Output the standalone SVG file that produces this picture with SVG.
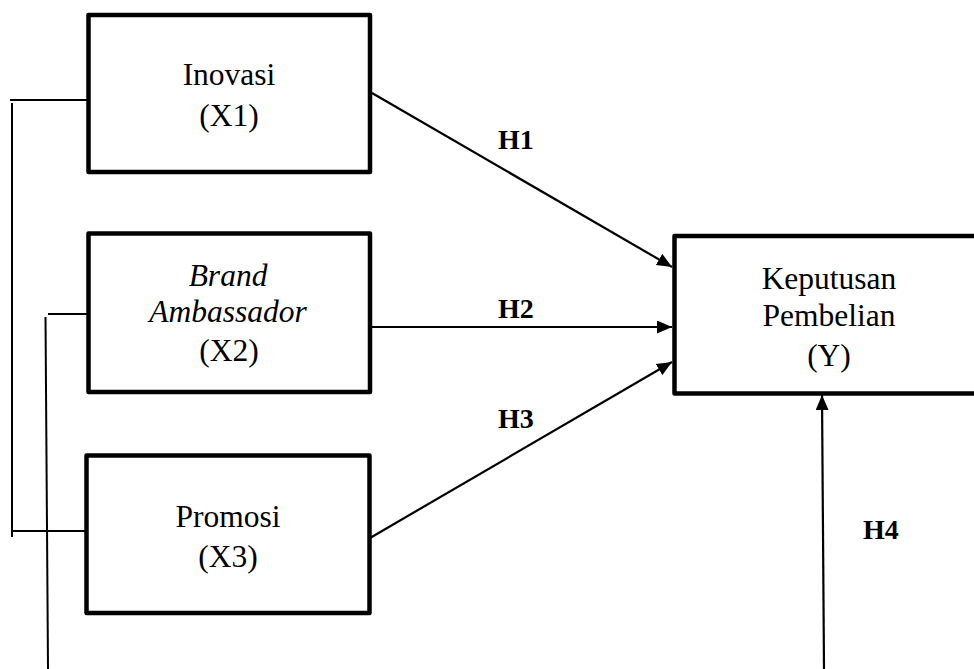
<svg xmlns="http://www.w3.org/2000/svg" width="974" height="669" viewBox="0 0 974 669">
  <style>
    .box { fill: #ffffff; stroke: #000000; stroke-width: 4.5; stroke-linejoin: round; }
    .txt { font-size: 31.5px; fill: #000000; text-anchor: middle; }
    .it { font-style: italic; }
    .lbl { font-size: 28px; font-weight: bold; fill: #000000; }
    .ln { stroke: #000000; stroke-width: 2; fill: none; }
    .arr { stroke: #000000; stroke-width: 2.2; fill: none; marker-end: url(#ah); }
  </style>
  <defs>
    <marker id="ah" markerUnits="userSpaceOnUse" markerWidth="15" markerHeight="13" refX="15" refY="6.5" orient="auto">
      <path d="M0,0 L15,6.5 L0,13 Z" fill="#000000"/>
    </marker>
  </defs>
  <rect width="974" height="669" fill="#ffffff"/>

  <g id="connectors">
    <path class="ln" d="M10,100 L88,100"/>
    <path class="ln" d="M12,103 L12,537"/>
    <path class="ln" d="M11,531 L86,531"/>
    <path class="ln" d="M48,314 L88,314"/>
    <path class="ln" d="M45.5,317 L48,669"/>
    <path class="arr" d="M372,93 L672,267"/>
    <path class="arr" d="M372,327 L672,327"/>
    <path class="arr" d="M370,538 L672,362"/>
    <path class="arr" d="M824,669 L822,395"/>
  </g>

  <g font-family="Liberation Serif, Times New Roman, DejaVu Serif, serif">
    <g id="labels">
      <text class="lbl" x="498" y="149">H1</text>
      <text class="lbl" x="498" y="318">H2</text>
      <text class="lbl" x="498" y="428">H3</text>
      <text class="lbl" x="863" y="539">H4</text>
    </g>

    <g id="node-x1">
      <rect class="box" x="88.5" y="15" width="281.5" height="157"/>
      <text class="txt" x="229" y="85">Inovasi</text>
      <text class="txt" x="229" y="126">(X1)</text>
    </g>

    <g id="node-x2">
      <rect class="box" x="88.5" y="233.5" width="281.5" height="158.5"/>
      <text class="txt it" x="228" y="286">Brand</text>
      <text class="txt it" x="228" y="322">Ambassador</text>
      <text class="txt" x="229" y="361">(X2)</text>
    </g>

    <g id="node-x3">
      <rect class="box" x="86.5" y="455.5" width="283" height="157.5"/>
      <text class="txt" x="228" y="527">Promosi</text>
      <text class="txt" x="228" y="567">(X3)</text>
    </g>

    <g id="node-y">
      <rect class="box" x="674.5" y="236" width="310" height="157.5"/>
      <text class="txt" x="829" y="289">Keputusan</text>
      <text class="txt" x="829" y="326">Pembelian</text>
      <text class="txt" x="829" y="366">(Y)</text>
    </g>
  </g>
</svg>
